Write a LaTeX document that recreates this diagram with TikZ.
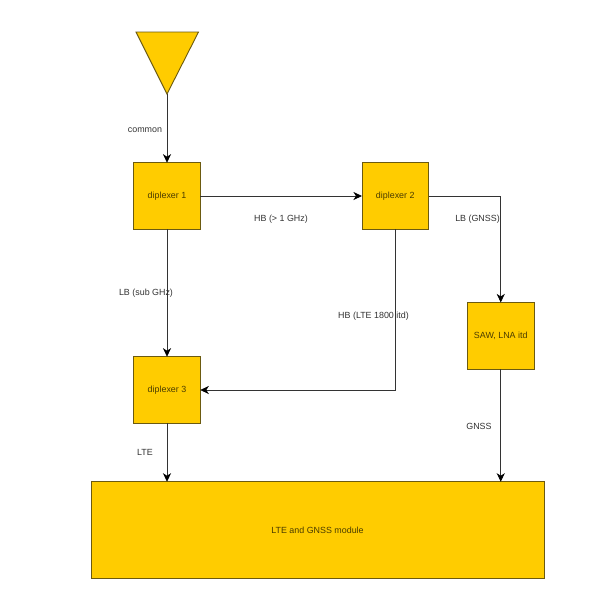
\documentclass[tikz,border=0pt]{standalone}
\usepackage{fontspec}
\setmainfont{Liberation Sans}
\usetikzlibrary{arrows.meta}
\definecolor{blockfill}{HTML}{FFCC00}
\definecolor{blockline}{HTML}{6B5A10}
\definecolor{wire}{HTML}{333333}
\definecolor{labeltext}{HTML}{333333}
\definecolor{blocktext}{HTML}{4A3C00}
\tikzset{
  x=1pt,y=-1pt,
  block/.style={draw=blockline,fill=blockfill,line width=0.9pt,inner sep=0pt,outer sep=0pt,font=\fontsize{8.9}{10}\selectfont,text=blocktext,anchor=center},
  square/.style={block,minimum width=66.6pt,minimum height=66.6pt},
  wirearrow/.style={draw=wire,line width=0.8pt,-{Stealth[length=8.5pt,width=8pt,inset=2.5pt,color=black]}},
  lbl/.style={font=\fontsize{8.9}{10}\selectfont,text=labeltext,inner sep=0pt,anchor=center}
}
\begin{document}
\begin{tikzpicture}
\useasboundingbox (0,0) rectangle (600,589);
\fill[white] (0,0) rectangle (600,589);
\draw[fill=blockfill,draw=blockline,line width=0.9pt,line join=miter] (136,32) -- (198.5,32) -- (167,94) -- cycle;
\coordinate (ant) at (167,94);
\node[square] (d1) at (167,196) {diplexer 1};
\node[square] (d2) at (395.25,196) {diplexer 2};
\node[square] (d3) at (167,390) {diplexer 3};
\node[square] (saw) at (500.75,335.75) {SAW, LNA itd};
\node[block,minimum width=453pt,minimum height=96.5pt] (mod) at (317.5,530) {LTE and GNSS module};
\coordinate (c2) at (500.75,196);
\coordinate (c3) at (395.25,390);
\coordinate (modl) at (d3.south |- mod.north);
\coordinate (modr) at (saw.south |- mod.north);
\draw[wirearrow] (ant) -- (d1.north);
\draw[wirearrow] (d1.east) -- (d2.west);
\draw[wirearrow] (d1.south) -- (d3.north);
\draw[wirearrow] (d2.east) -- (c2) -- (saw.north);
\draw[wirearrow] (d2.south) -- (c3) -- (d3.east);
\draw[wirearrow] (d3.south) -- (modl);
\draw[wirearrow] (saw.south) -- (modr);
\node[lbl] (l1) at (145,129.7) {common};
\node[lbl] (l2) at (281,218.7) {HB (> 1 GHz)};
\node[lbl] (l3) at (146,292.7) {LB (sub GHz)};
\node[lbl] (l4) at (373.5,315.7) {HB (LTE 1800 itd)};
\node[lbl] (l5) at (477.5,218.7) {LB (GNSS)};
\node[lbl] (l6) at (145,452.7) {LTE};
\node[lbl] (l7) at (479,426) {GNSS};
\end{tikzpicture}
\end{document}
